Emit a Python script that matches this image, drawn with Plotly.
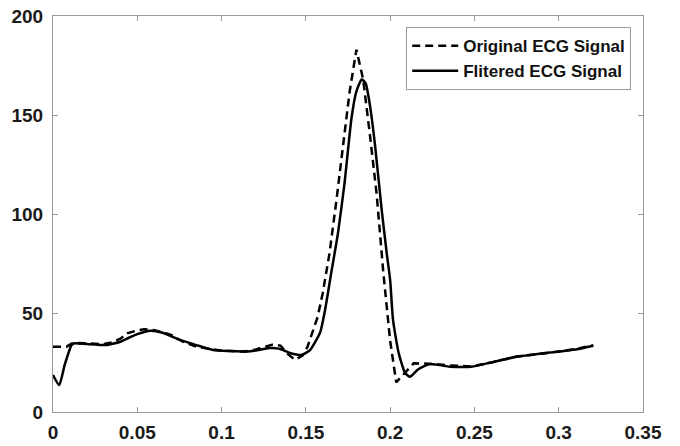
import plotly.graph_objects as go

# Original ECG signal (dashed)
orig_x = [0, 0.008, 0.012, 0.016, 0.02, 0.03, 0.035, 0.04, 0.044, 0.05, 0.054, 0.06, 0.065, 0.07,
          0.077, 0.085, 0.09, 0.095, 0.1, 0.105, 0.11, 0.115, 0.12, 0.125, 0.13, 0.135, 0.139,
          0.1436, 0.148, 0.151, 0.154, 0.157, 0.16, 0.164, 0.168, 0.172, 0.176, 0.18, 0.184,
          0.188, 0.192, 0.196, 0.2, 0.2036, 0.2088, 0.214, 0.218, 0.225, 0.235, 0.248, 0.26,
          0.275, 0.295, 0.31, 0.3205]
orig_y = [33, 33, 35, 34.8, 34.5, 34.3, 35.2, 37, 39.7, 41.2, 41.8, 41.3, 40.3, 39,
          35.5, 33, 32.3, 31.5, 31, 30.8, 30.5, 30.8, 31.5, 32.8, 34, 33.5, 29.5,
          26.3, 28.5, 33, 40, 48, 60, 80, 106, 135, 162, 183, 168,
          140, 110, 70, 36, 15, 19.7, 24.6, 24.5, 24.3, 23.5, 23, 25,
          28, 30, 31.8, 33.7]

# Filtered ECG signal (solid)
filt_x = [0, 0.0037, 0.007, 0.011, 0.013, 0.02, 0.0318, 0.036, 0.04, 0.045, 0.05, 0.0576, 0.065,
          0.0753, 0.085, 0.095, 0.105, 0.115, 0.122, 0.1287, 0.134, 0.1406, 0.1475, 0.1525,
          0.1584, 0.1614, 0.165, 0.169, 0.173, 0.177, 0.18, 0.1831, 0.1855, 0.188, 0.191,
          0.195, 0.198, 0.2, 0.2017, 0.205, 0.2088, 0.2118, 0.2165, 0.2236, 0.2355, 0.2484,
          0.2592, 0.275, 0.2948, 0.3107, 0.3205]
filt_y = [18.7, 13.6, 24, 33.8, 34.7, 34.3, 33.8, 34.6, 35.5, 37.5, 39.3, 41, 40,
          36.4, 33.8, 31.3, 30.8, 30.5, 31.3, 32.3, 32, 29.8, 28.8, 31.3,
          40, 51.5, 70, 90, 116, 148, 162, 168, 166, 155, 135,
          102, 80, 66.7, 46.5, 30, 19.8, 17.8, 21.5, 24.2, 22.9, 22.9,
          24.9, 27.9, 30, 31.7, 33.5]

x_ticks = [0, 0.05, 0.1, 0.15, 0.2, 0.25, 0.3, 0.35]
x_tick_labels = ["0", "0.05", "0.1", "0.15", "0.2", "0.25", "0.3", "0.35"]
y_ticks = [0, 50, 100, 150, 200]
y_tick_labels = ["0", "50", "100", "150", "200"]

FONT = "Liberation Sans, Arial, sans-serif"

fig = go.Figure()
fig.add_trace(go.Scatter(x=orig_x, y=orig_y, mode="lines", name="Original ECG Signal",
                         line=dict(color="black", width=2.5, dash="8px,5px")))
fig.add_trace(go.Scatter(x=filt_x, y=filt_y, mode="lines", name="Flitered ECG Signal",
                         line=dict(color="black", width=2.5, shape="spline", smoothing=0.5)))

axis_common = dict(showline=True, linecolor="#9a9a9a", linewidth=1, mirror="ticks",
                   ticks="inside", ticklen=5, tickcolor="#9a9a9a", showgrid=False,
                   zeroline=False, automargin=False,
                   tickfont=dict(family=FONT, size=19, color="#1a1a1a", weight="bold"))

fig.update_xaxes(range=[0, 0.35], tickvals=x_ticks, ticktext=x_tick_labels,
                 ticklabelstandoff=3, **axis_common)
fig.update_yaxes(range=[0, 200], tickvals=y_ticks, ticktext=y_tick_labels,
                 ticklabelstandoff=5, **axis_common)

fig.update_layout(
    width=680, height=446,
    margin=dict(l=53, r=37, t=16, b=34),
    paper_bgcolor="white", plot_bgcolor="white",
    showlegend=True,
    legend=dict(x=0.98, y=0.972, xanchor="right", yanchor="top",
                bgcolor="white", bordercolor="#9a9a9a", borderwidth=1,
                font=dict(family=FONT, size=17, color="#111111", weight="bold"),
                itemwidth=46, tracegroupgap=0),
)

fig.write_html("out.html")
